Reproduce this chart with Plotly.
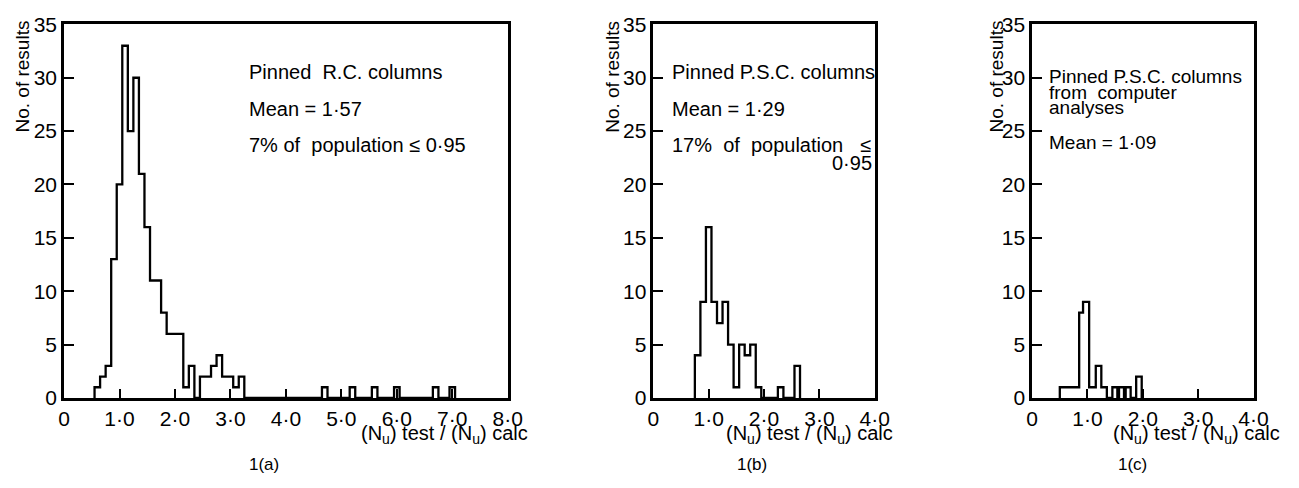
import plotly.graph_objects as go

W, H = 1299, 488

# ---------------- data ----------------
# Panel 1(a): Pinned R.C. columns, bin width 0.1 (bin centres)
a_centres = [0.6, 0.7, 0.8, 0.9, 1.0, 1.1, 1.2, 1.3, 1.4, 1.5, 1.6, 1.7, 1.8,
             1.9, 2.0, 2.1, 2.2, 2.3, 2.5, 2.6, 2.7, 2.8, 2.9, 3.0, 3.1, 3.2,
             4.7, 5.2, 5.6, 6.0, 6.7, 7.0]
a_counts = [1, 2, 3, 13, 20, 33, 25, 30, 21, 16, 11, 11, 8,
            6, 6, 6, 1, 3, 2, 2, 3, 4, 2, 2, 1, 2,
            1, 1, 1, 1, 1, 1]

# Panel 1(b): Pinned P.S.C. columns, bin width 0.1 (bin centres)
b_centres = [0.8, 0.9, 1.0, 1.1, 1.2, 1.3, 1.4, 1.5, 1.6, 1.7, 1.8, 1.9, 2.3, 2.6]
b_counts = [4, 9, 16, 9, 7, 9, 5, 1, 5, 4, 5, 1, 1, 3]

# Panel 1(c): Pinned P.S.C. columns from computer analyses (bin edges)
c_left = [0.50, 0.85, 0.92, 1.03, 1.15, 1.25, 1.45, 1.57, 1.69, 1.88]
c_right = [0.85, 0.92, 1.03, 1.15, 1.25, 1.35, 1.54, 1.66, 1.78, 1.98]
c_counts = [1, 8, 9, 1, 3, 1, 1, 1, 1, 2]

BIN_W = 0.1

a_xticks = [0, 1, 2, 3, 4, 5, 6, 7, 8]
a_xticktext = ["0", "1·0", "2·0", "3·0", "4·0", "5·0", "6·0", "7·0", "8·0"]
bc_xticks = [0, 1, 2, 3, 4]
bc_xticktext = ["0", "1·0", "2·0", "3·0", "4·0"]
yticks = [0, 5, 10, 15, 20, 25, 30, 35]
yticktext = ["0", "5", "10", "15", "20", "25", "30", "35"]

a_text = ["Pinned\u00a0\u00a0R.C. columns", "Mean = 1·57", "7% of\u00a0 population ≤ 0·95"]
b_text = ["Pinned P.S.C. columns", "Mean = 1·29",
          "17%\u00a0 of\u00a0 population\u00a0\u00a0 ≤", "0·95"]
c_text = ["Pinned P.S.C. columns", "from\u00a0 computer", "analyses", "Mean = 1·09"]
panel_labels = ["1(a)", "1(b)", "1(c)"]
xtitle = "(N<sub>u</sub>) test / (N<sub>u</sub>) calc"
ytitle = "No. of results"


def outline(lefts, rights, counts):
    xs, ys = [], []
    prev_r = None
    for l, r, c in zip(lefts, rights, counts):
        if prev_r is None or abs(l - prev_r) > 1e-9:
            if prev_r is not None:
                xs.append(prev_r); ys.append(0)
            xs.append(l); ys.append(0)
        xs += [l, r]
        ys += [c, c]
        prev_r = r
    xs.append(prev_r); ys.append(0)
    return xs, ys


def from_centres(centres, width):
    lefts = [round(c - width / 2, 4) for c in centres]
    rights = [round(c + width / 2, 4) for c in centres]
    return lefts, rights


FONT = "Liberation Sans, Arial, sans-serif"
fig = go.Figure()

al, ar = from_centres(a_centres, BIN_W)
bl, br = from_centres(b_centres, BIN_W)
panels = [
    ("x", "y", outline(al, ar, a_counts)),
    ("x2", "y2", outline(bl, br, b_counts)),
    ("x3", "y3", outline(c_left, c_right, c_counts)),
]
for xa, ya, (xs, ys) in panels:
    fig.add_trace(go.Scatter(x=xs, y=ys, mode="lines", xaxis=xa, yaxis=ya,
                             line=dict(color="black", width=2.3),
                             showlegend=False, hoverinfo="skip"))

# pixel geometry
y_dom = [1 - 405 / H, 1 - 13 / H]
x_doms = [[59 / W, 510 / W], [658 / W, 883 / W], [1043 / W, 1268 / W]]
x_ranges = [[0, 8], [0, 4], [0, 4]]
x_ticks = [(a_xticks, a_xticktext), (bc_xticks, bc_xticktext), (bc_xticks, bc_xticktext)]

axis_common = dict(showline=True, linecolor="black", linewidth=2.6, mirror=True,
                   ticks="inside", tickcolor="black", tickwidth=1.8,
                   showgrid=False, zeroline=False,
                   tickfont=dict(family=FONT, size=21, color="black"))

layout = dict(width=W, height=H, margin=dict(l=0, r=0, t=0, b=0),
              paper_bgcolor="white", plot_bgcolor="white", showlegend=False)
for i in range(3):
    sx = "" if i == 0 else str(i + 1)
    layout["xaxis" + sx] = dict(domain=x_doms[i], range=x_ranges[i], anchor="y" + sx,
                                tickmode="array", tickvals=x_ticks[i][0],
                                ticktext=x_ticks[i][1], ticklen=9, **axis_common)
    layout["yaxis" + sx] = dict(domain=y_dom, range=[0, 35], anchor="x" + sx,
                                tickmode="array", tickvals=yticks, ticktext=yticktext,
                                ticklen=10, **axis_common)
fig.update_layout(**layout)


def ann(text, px, py, size=20, xanchor="left", angle=0):
    fig.add_annotation(text=text, x=px / W, y=1 - py / H, xref="paper", yref="paper",
                       xanchor=xanchor, yanchor="middle", showarrow=False,
                       textangle=angle,
                       font=dict(family=FONT, size=size, color="black"))


# panel texts
for t, py in zip(a_text, [63, 102, 140]):
    ann(t, 245, py)
for t, py in zip(b_text[:3], [63, 102, 140]):
    ann(t, 675, py)
ann(b_text[3], 882, 158, xanchor="right")
for t, py in zip(c_text, [68, 84, 100, 137]):
    ann(t, 1058, py, size=19)

# axis titles
for px in [533, 904, 1297]:
    ann(xtitle, px, 443, size=20, xanchor="right")
for px in [17, 617, 1007]:
    ann(ytitle, px, 68, size=19, xanchor="center", angle=-90)

# panel labels
for t, px in zip(panel_labels, [262, 758, 1145]):
    ann(t, px, 475, size=17, xanchor="center")

fig.write_html("out.html")
